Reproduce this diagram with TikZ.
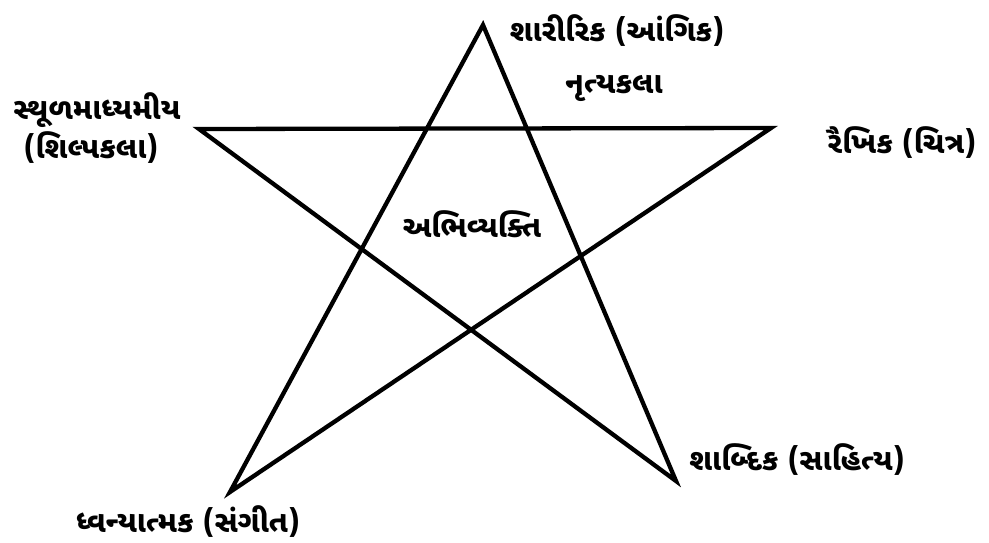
\documentclass[tikz,border=0pt]{standalone}
\usepackage{fontspec}
\newfontfamily\guj[Script=Gujarati]{Noto Sans Gujarati UI}
\begin{document}
\begin{tikzpicture}[x=1pt,y=-1pt,
  starline/.style={line width=4.3pt,line join=miter,black},
  lbl/.style={font=\guj\bfseries\fontsize{30}{34}\selectfont,inner sep=0pt,anchor=center}]
\useasboundingbox (0,0) rectangle (989,543);
\coordinate (T) at (483,25);
\coordinate (L) at (199,129);
\coordinate (R) at (771,128);
\coordinate (BL) at (230,492);
\coordinate (BR) at (676,481);
\draw[starline] (T) -- (BL) -- (R) -- (L) -- (BR) -- cycle;
\node[lbl] (sharirik) at (617,31) {શારીરિક (આંગિક)};
\node[lbl] (nrutya) at (614,88) {નૃત્યકલા};
\node[lbl] (sthul) at (97,110) {સ્થૂળમાધ્યમીય};
\node[lbl] (shilp) at (91,148) {(શિલ્પકલા)};
\node[lbl] (raikhik) at (902,143) {રૈખિક (ચિત્ર)};
\node[lbl] (abhi) at (472,224) {અભિવ્યક્તિ};
\node[lbl] (shabdik) at (797,460) {શાબ્દિક (સાહિત્ય)};
\node[lbl] (dhvan) at (188,522) {ધ્વન્યાત્મક (સંગીત)};
\end{tikzpicture}
\end{document}
